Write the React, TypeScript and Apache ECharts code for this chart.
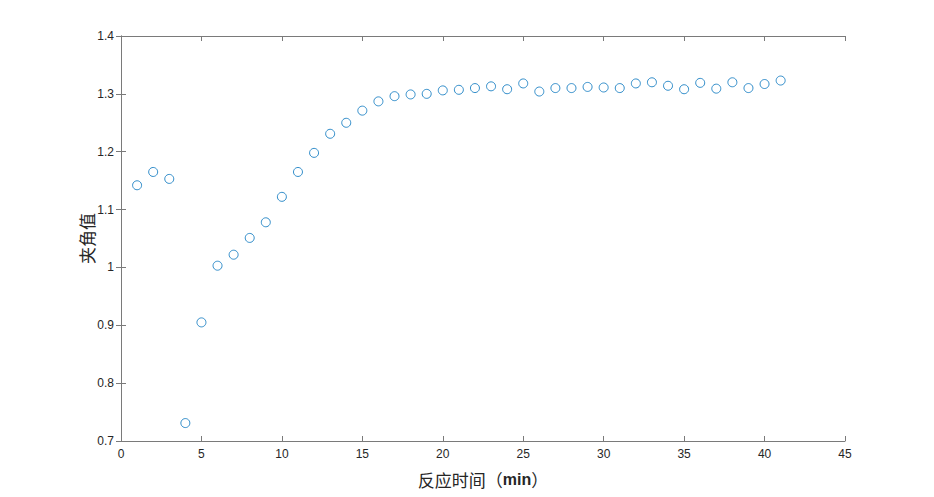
import React, { useEffect, useRef } from "react";
import * as echarts from "echarts";

const times = [1,2,3,4,5,6,7,8,9,10,11,12,13,14,15,16,17,18,19,20,21,22,23,24,25,26,27,28,29,30,31,32,33,34,35,36,37,38,39,40,41];
const angleValues = [1.142,1.165,1.153,0.731,0.905,1.003,1.022,1.051,1.078,1.122,1.165,1.198,1.231,1.250,1.271,1.287,1.296,1.299,1.300,1.306,1.307,1.310,1.313,1.308,1.318,1.304,1.310,1.310,1.312,1.311,1.310,1.318,1.320,1.314,1.308,1.319,1.309,1.320,1.310,1.317,1.323];
const xAxisNameCn = "反应时间（";
const xAxisNameUnit = "min";
const xAxisNameEnd = "）";
const yAxisName = "夹角值";

export default function App() {
  const ref = useRef<HTMLDivElement>(null);
  useEffect(() => {
    if (!ref.current) return;
    const chart = echarts.init(ref.current, undefined, { renderer: "svg" });
    const axisColor = "#7a7a7a";
    const labelColor = "#262626";
    const font = "Arial, 'Liberation Sans', sans-serif";
    const cjk = "'Noto Sans CJK SC', sans-serif";
    chart.setOption({
      animation: false,
      backgroundColor: "#ffffff",
      grid: { left: 113, right: 81, top: 28, bottom: 56, containLabel: false, outerBoundsMode: "none" },
      xAxis: [
        {
          type: "value", min: 0, max: 45, interval: 5, position: "bottom",
          axisLine: { show: true, lineStyle: { color: axisColor, width: 1 } },
          axisTick: { show: true, inside: true, length: 5, lineStyle: { color: axisColor } },
          axisLabel: { color: labelColor, fontSize: 12, fontFamily: font, margin: 7 },
          splitLine: { show: false },
          name: `{a|${xAxisNameCn}}{b|${xAxisNameUnit}}{a|${xAxisNameEnd}}`,
          nameLocation: "middle", nameGap: 29, nameMoveOverlap: false,
          nameTextStyle: {
            color: labelColor, fontSize: 17, fontFamily: cjk, lineHeight: 18,
            rich: {
              a: { color: labelColor, fontSize: 17, fontFamily: cjk, lineHeight: 18 },
              b: { color: labelColor, fontSize: 16, fontFamily: font, fontWeight: "bold", lineHeight: 18 }
            }
          }
        },
        {
          type: "value", min: 0, max: 45, interval: 5, position: "top",
          axisLine: { show: true, lineStyle: { color: axisColor, width: 1 } },
          axisTick: { show: true, inside: true, length: 5, lineStyle: { color: axisColor } },
          axisLabel: { show: false },
          splitLine: { show: false }
        }
      ],
      yAxis: [
        {
          type: "value", min: 0.7, max: 1.4, interval: 0.1, position: "left",
          axisLine: { show: true, lineStyle: { color: axisColor, width: 1 } },
          axisTick: { show: true, inside: true, length: 5, lineStyle: { color: axisColor } },
          axisLabel: {
            color: labelColor, fontSize: 12, fontFamily: font, margin: 7,
            formatter: (v: number) => String(Math.round(v * 10) / 10)
          },
          splitLine: { show: false },
          name: yAxisName, nameLocation: "middle", nameGap: 26, nameRotate: 90, nameMoveOverlap: false,
          nameTextStyle: { color: labelColor, fontSize: 17, fontFamily: cjk }
        },
        {
          type: "value", min: 0.7, max: 1.4, interval: 0.1, position: "right",
          axisLine: { show: true, lineStyle: { color: axisColor, width: 1 } },
          axisTick: { show: true, inside: true, length: 5, lineStyle: { color: axisColor } },
          axisLabel: { show: false },
          splitLine: { show: false }
        }
      ],
      series: [
        {
          type: "scatter",
          xAxisIndex: 0, yAxisIndex: 0,
          data: times.map((t, i) => [t, angleValues[i]]),
          symbol: "circle",
          symbolSize: 9,
          itemStyle: { color: "#ffffff", borderColor: "#0072BD", borderWidth: 1 },
          emphasis: { disabled: true }
        }
      ]
    });
    return () => chart.dispose();
  }, []);
  return <div ref={ref} style={{ width: 918, height: 489, marginBottom: -8 }} />;
}
